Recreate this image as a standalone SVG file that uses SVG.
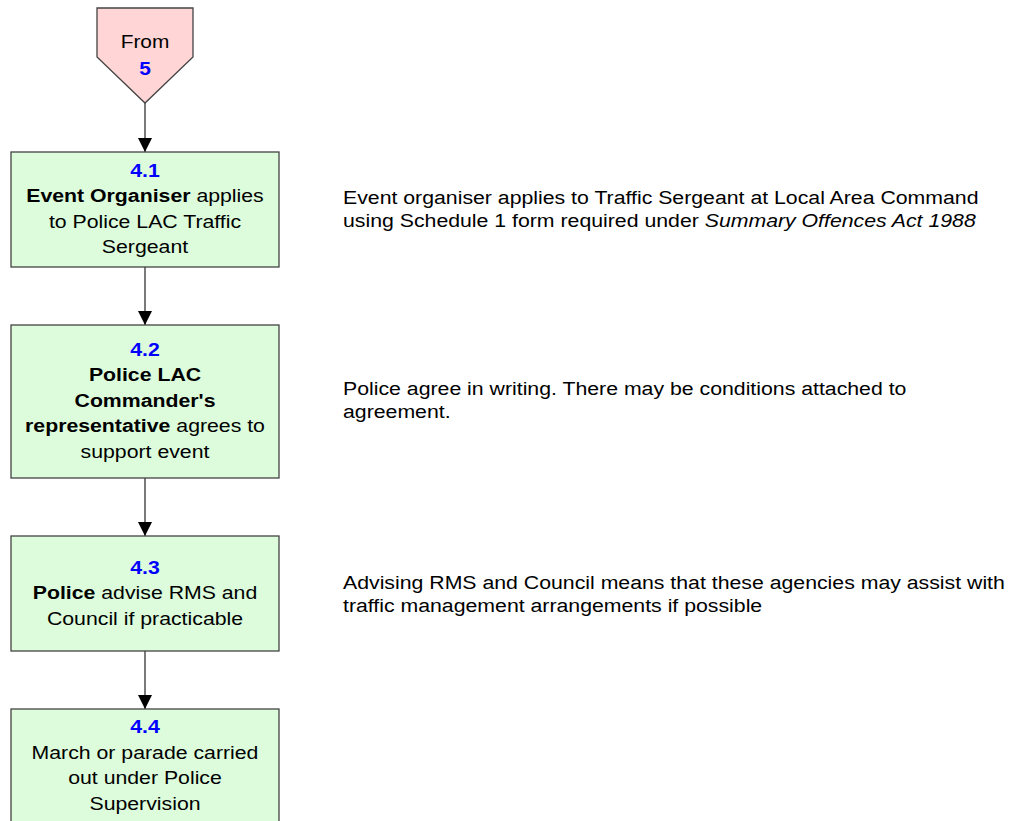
<svg xmlns="http://www.w3.org/2000/svg" width="1019" height="821" viewBox="0 0 1019 821">
<defs>
<marker id="ah" markerWidth="14" markerHeight="14" refX="14" refY="7" orient="auto" markerUnits="userSpaceOnUse">
<path d="M0,0 L14,7 L0,14 Z" fill="#000"/>
</marker>
<style>
text{font-family:"Liberation Sans",Arial,sans-serif;font-size:18.5px;fill:#000}
.c{text-anchor:middle}
.n{fill:#0000ff;font-weight:bold}
.b{font-weight:bold}
.note{font-size:19px}
.box{fill:#dcfcdc;stroke:#444;stroke-width:1.3}
.con{stroke:#333;stroke-width:1.3;fill:none;marker-end:url(#ah)}
</style>
</defs>
<rect width="1019" height="821" fill="#fff"/>
<g id="connectors">
<line class="con" x1="145" y1="103" x2="145" y2="152"/>
<line class="con" x1="145" y1="267" x2="145" y2="325"/>
<line class="con" x1="145" y1="478" x2="145" y2="536"/>
<line class="con" x1="145" y1="651" x2="145" y2="709"/>
</g>
<g id="from5">
<polygon points="97,8 193,8 193,57 145,103 97,57" fill="#ffd5d5" stroke="#444" stroke-width="1.3"/>
<g transform="translate(145,0) scale(1.13,1)">
<text class="c" x="0" y="48.5">From</text>
<text class="c n" x="0" y="75">5</text>
</g>
</g>
<g id="n41">
<rect class="box" x="11" y="152" width="268" height="115"/>
<g transform="translate(145,0) scale(1.15,1)">
<text class="c n" x="0" y="177">4.1</text>
<text class="c" x="0" y="202.5"><tspan class="b">Event Organiser</tspan> applies</text>
<text class="c" x="0" y="228">to Police LAC Traffic</text>
<text class="c" x="0" y="253">Sergeant</text>
</g>
</g>
<g id="n42">
<rect class="box" x="11" y="325" width="268" height="153"/>
<g transform="translate(145,0) scale(1.15,1)">
<text class="c n" x="0" y="356">4.2</text>
<text class="c b" x="0" y="381.5">Police LAC</text>
<text class="c b" x="0" y="407">Commander's</text>
<text class="c" x="0" y="432.5"><tspan class="b">representative</tspan> agrees to</text>
<text class="c" x="0" y="458">support event</text>
</g>
</g>
<g id="n43">
<rect class="box" x="11" y="536" width="268" height="115"/>
<g transform="translate(145,0) scale(1.15,1)">
<text class="c n" x="0" y="574">4.3</text>
<text class="c" x="0" y="599.5"><tspan class="b">Police</tspan> advise RMS and</text>
<text class="c" x="0" y="625">Council if practicable</text>
</g>
</g>
<g id="n44">
<rect class="box" x="11" y="709" width="268" height="130"/>
<g transform="translate(145,0) scale(1.15,1)">
<text class="c n" x="0" y="733">4.4</text>
<text class="c" x="0" y="759">March or parade carried</text>
<text class="c" x="0" y="784.5">out under Police</text>
<text class="c" x="0" y="810">Supervision</text>
</g>
</g>
<g id="notes" transform="translate(343,0) scale(1.12,1)">
<text class="note" x="0" y="204">Event organiser applies to Traffic Sergeant at Local Area Command</text>
<text class="note" x="0" y="227">using Schedule 1 form required under <tspan font-style="italic">Summary Offences Act 1988</tspan></text>
<text class="note" x="0" y="395">Police agree in writing. There may be conditions attached to</text>
<text class="note" x="0" y="418">agreement.</text>
<text class="note" x="0" y="589">Advising RMS and Council means that these agencies may assist with</text>
<text class="note" x="0" y="612">traffic management arrangements if possible</text>
</g>
</svg>
